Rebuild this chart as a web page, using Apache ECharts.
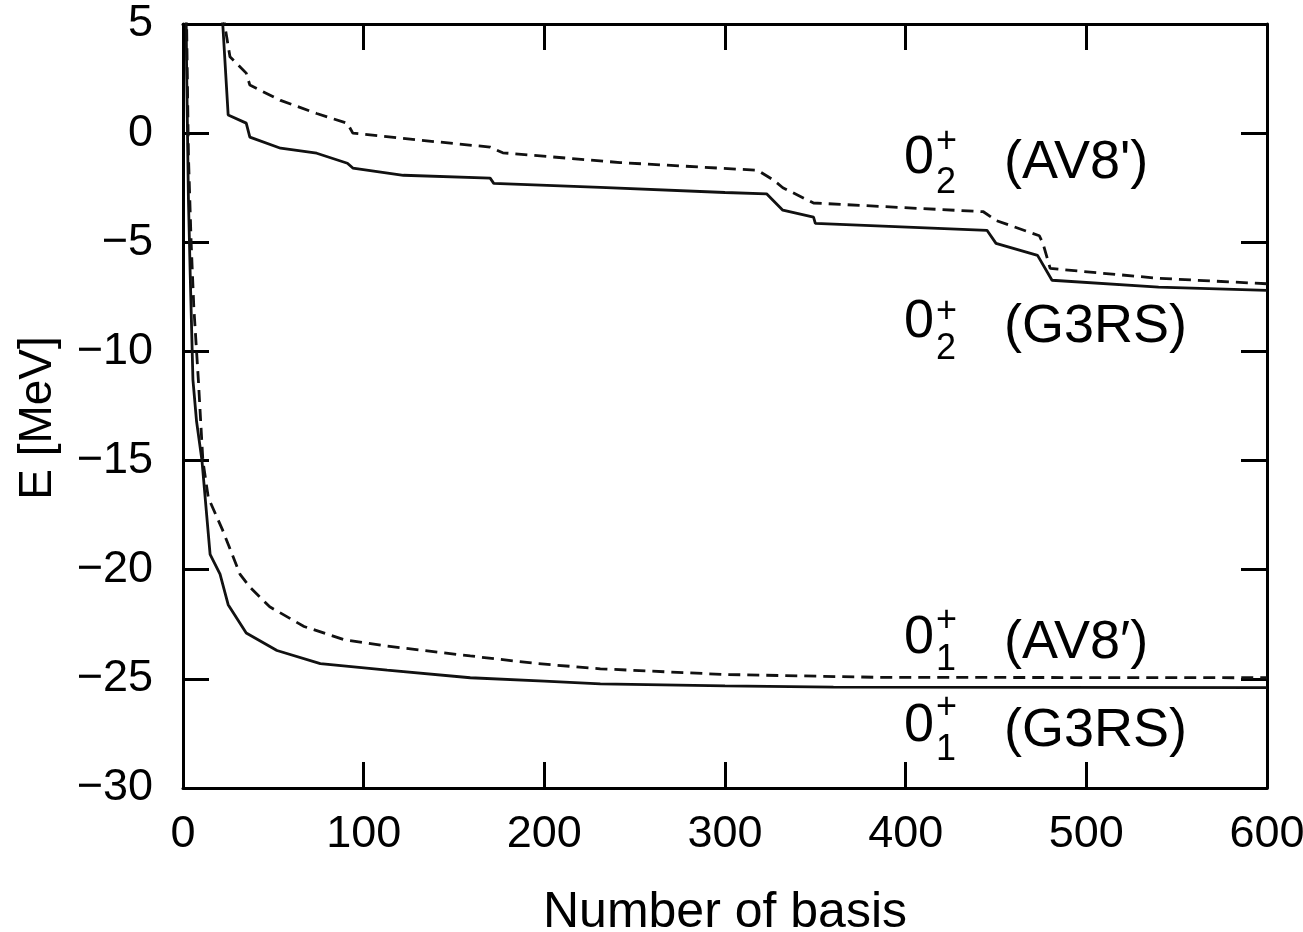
<!DOCTYPE html>
<html>
<head>
<meta charset="utf-8">
<script src="https://cdn.jsdelivr.net/npm/echarts@6/dist/echarts.min.js"></script>
<style>
html, body { margin: 0; padding: 0; background: #fff; }
#chart { width: 1303px; height: 932px; }
</style>
</head>
<body>
<div id="chart"></div>
<script>
// 0_2^+ (G3RS), solid
var basisG3rs2 = [18, 22, 25, 35, 37, 54, 74, 91, 94, 122, 170, 172, 231, 300, 323, 332, 349, 350, 445, 450, 473, 481, 540, 600];
var energyG3rs2 = [9, 5, 0.83, 0.46, -0.18, -0.69, -0.92, -1.38, -1.6, -1.93, -2.06, -2.3, -2.48, -2.72, -2.78, -3.53, -3.85, -4.13, -4.45, -5.05, -5.6, -6.74, -7.05, -7.2];
// 0_2^+ (AV8'), dashed
var basisAv82 = [20, 23, 26, 35, 37, 54, 74, 91, 94, 131, 170, 177, 242, 318, 327, 332, 349, 443, 450, 474, 476, 480, 540, 600];
var energyAv82 = [9, 5, 3.5, 2.75, 2.2, 1.5, 0.9, 0.45, 0, -0.32, -0.64, -0.9, -1.35, -1.7, -2.16, -2.5, -3.2, -3.6, -4.0, -4.7, -5.05, -6.2, -6.65, -6.9];
// 0_1^+ (G3RS), solid
var basisG3rs1 = [0.5, 1, 2, 3, 4, 5.5, 7.5, 10.5, 13, 15, 20.5, 25, 35, 52, 76, 113, 159, 200, 231, 300, 360, 600];
var energyG3rs1 = [30, 12, 3, -3, -6.5, -11.3, -13.2, -15, -17.4, -19.3, -20.2, -21.6, -22.9, -23.7, -24.3, -24.6, -24.95, -25.1, -25.23, -25.32, -25.38, -25.4];
// 0_1^+ (AV8'), dashed
var basisAv81 = [0.5, 1, 2, 3, 4.5, 6, 8.5, 11, 14, 22, 31.5, 37, 48, 67, 89, 113, 159, 196, 231, 300, 385, 600];
var energyAv81 = [30, 14, 5, -1, -5, -8, -11.3, -15, -16.7, -18.2, -20.2, -20.8, -21.7, -22.6, -23.2, -23.5, -23.95, -24.3, -24.54, -24.8, -24.93, -24.95];

function pairs(xs, ys) {
	var out = [];
	for (var i = 0; i < xs.length; i++) {
		out.push([xs[i], ys[i]]);
	}
	return out;
}

var FONT = 'Liberation Sans';

function fmtMinus(v) {
	return v < 0 ? '\u2212' + Math.abs(v) : String(v);
}

var axisLineStyle = { color: '#000', width: 3 };
var tickStyle = { inside: true, length: 26, lineStyle: { color: '#000', width: 3 } };

function lineSeries(data, dashed) {
	return {
		type: 'line',
		data: data,
		showSymbol: false,
		smooth: false,
		clip: true,
		lineStyle: {
			color: '#111',
			width: 2.8,
			type: dashed ? [12, 7] : 'solid'
		}
	};
}

// annotation label: big "0", small sub/superscript, then name in parentheses
function stateLabel(x, yMain, ySub, ySup, sub, name) {
	var big = { fontFamily: FONT, fontSize: 54, fill: '#000', verticalAlign: 'middle', align: 'left' };
	var small = { fontFamily: FONT, fontSize: 36, fill: '#000', verticalAlign: 'middle', align: 'left' };
	return [
		{ type: 'text', x: x, y: yMain, style: Object.assign({ text: '0' }, big) },
		{ type: 'text', x: x + 32, y: ySub, style: Object.assign({ text: sub }, small) },
		{ type: 'text', x: x + 32, y: ySup, style: Object.assign({ text: '+' }, small) },
		{ type: 'text', x: x + 100, y: yMain + 5, style: Object.assign({ text: name }, big) }
	];
}

var graphics = [].concat(
	stateLabel(904, 158, 183, 142, '2', "(AV8')"),
	stateLabel(904, 322, 349, 312, '2', '(G3RS)'),
	stateLabel(904, 638, 660, 621, '1', '(AV8\u2032)'),
	stateLabel(904, 726, 750, 708, '1', '(G3RS)')
);

var option = {
	animation: false,
	grid: { left: 183, right: 36, top: 24, bottom: 144, containLabel: false, outerBoundsMode: 'none' },
	xAxis: [{
		type: 'value',
		min: 0, max: 600, interval: 100,
		name: 'Number of basis',
		nameLocation: 'middle',
		nameGap: 100,
		nameTextStyle: { fontFamily: FONT, fontSize: 50, color: '#000' },
		axisLine: { onZero: false, lineStyle: axisLineStyle },
		axisTick: tickStyle,
		axisLabel: { fontFamily: FONT, fontSize: 45, color: '#000', margin: 24 },
		splitLine: { show: false }
	}, {
		type: 'value', position: 'top',
		min: 0, max: 600, interval: 100,
		axisLine: { onZero: false, lineStyle: axisLineStyle },
		axisTick: tickStyle,
		axisLabel: { show: false },
		splitLine: { show: false }
	}],
	yAxis: [{
		type: 'value',
		min: -30, max: 5, interval: 5,
		name: 'E [MeV]',
		nameLocation: 'middle',
		nameGap: 122,
		nameRotate: 90,
		nameTextStyle: { fontFamily: FONT, fontSize: 46, color: '#000', padding: [0, 24, 0, 0] },
		axisLine: { onZero: false, lineStyle: axisLineStyle },
		axisTick: tickStyle,
		axisLabel: { fontFamily: FONT, fontSize: 45, color: '#000', margin: 30, formatter: fmtMinus },
		splitLine: { show: false }
	}, {
		type: 'value', position: 'right',
		min: -30, max: 5, interval: 5,
		axisLine: { onZero: false, lineStyle: axisLineStyle },
		axisTick: tickStyle,
		axisLabel: { show: false },
		splitLine: { show: false }
	}],
	series: [
		lineSeries(pairs(basisG3rs2, energyG3rs2), false),
		lineSeries(pairs(basisAv82, energyAv82), true),
		lineSeries(pairs(basisG3rs1, energyG3rs1), false),
		lineSeries(pairs(basisAv81, energyAv81), true)
	],
	graphic: graphics
};

var myChart = echarts.init(document.getElementById('chart'));
myChart.setOption(option);
</script>
</body>
</html>
